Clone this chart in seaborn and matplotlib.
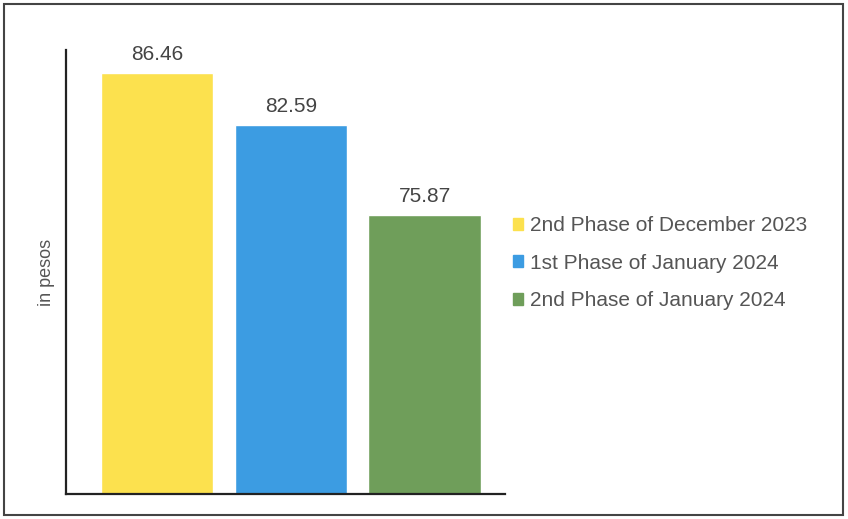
import matplotlib
matplotlib.use("Agg")
import matplotlib.pyplot as plt
import seaborn as sns
import pandas as pd
from matplotlib.patches import Rectangle

categories = ["2nd Phase of December 2023", "1st Phase of January 2024", "2nd Phase of January 2024"]
values = [86.46, 82.59, 75.87]
colors = ["#FCE14E", "#3C9CE2", "#6F9E5A"]
value_labels = ["86.46", "82.59", "75.87"]

sns.set_theme(style="white")
plt.rcParams['font.family'] = ['Liberation Sans', 'DejaVu Sans']

df = pd.DataFrame({"period": categories, "price": values})

fig = plt.figure(figsize=(8.48, 5.19), dpi=100)
ax = fig.add_axes([66/848, 1-494/519, (505-66)/848, (494-50)/519])

sns.barplot(data=df, x="period", y="price", hue="period", palette=colors,
            width=0.84, ax=ax, legend=False, saturation=1)

ax.set_ylim(55.1, 88.2)
ax.set_xlim(-0.68, 2.6)
ax.set_xticks([])
ax.set_yticks([])
ax.set_xlabel("")
ax.set_ylabel("in pesos", fontsize=13, color="#555555", labelpad=8)
for s in ["top", "right"]:
    ax.spines[s].set_visible(False)
for s in ["left", "bottom"]:
    ax.spines[s].set_color("#222222")
    ax.spines[s].set_linewidth(1.6)

for i, (v, lab) in enumerate(zip(values, value_labels)):
    ax.annotate(lab, (i, v), xytext=(0, 7), textcoords="offset points",
                ha="center", va="bottom", fontsize=15, color="#444444")

handles = [Rectangle((0, 0), 1, 1, color=c) for c in colors]
leg = fig.legend(handles, categories, loc="upper left",
                 bbox_to_anchor=(513/848, 1-216/519), frameon=False,
                 fontsize=15, handlelength=0.5, handleheight=0.5,
                 handletextpad=0.3, labelspacing=0.9, borderpad=0,
                 borderaxespad=0)
for t in leg.get_texts():
    t.set_color("#555555")

fig.patches.append(Rectangle((4/848, 4/519), 839/848, 511/519, transform=fig.transFigure,
                             fill=False, edgecolor="#444444", linewidth=1.5))

fig.savefig("out.png", dpi=100)
